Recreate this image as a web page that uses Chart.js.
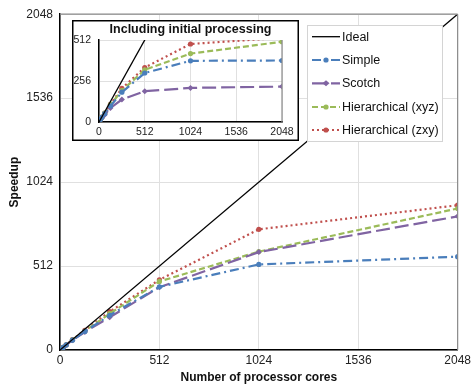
<!DOCTYPE html>
<html>
<head>
<meta charset="utf-8">
<script src="https://cdn.jsdelivr.net/npm/chart.js@4"></script>
<style>
  body { margin: 0; background: #fff; }
  #wrap { position: relative; width: 474px; height: 387px; }
  #main { position: absolute; left: 0; top: 0; }
  #inset { position: absolute; left: 72px; top: 20px; }
</style>
</head>
<body>
<div id="wrap">
  <canvas id="main" width="474" height="387"></canvas>
  <canvas id="inset" width="227" height="121"></canvas>
</div>
<script>
// processor cores (x) and speedups
const cores = [1, 16, 32, 64, 128, 256, 512, 1024, 2048];
const idealCores = [0, 2048];
const ideal = [0, 2048];

const simple = [1, 16, 31, 60, 113, 212, 385, 522, 569];
const scotch = [1, 16, 31, 59, 110, 200, 383, 597, 815];
const hierXyz = [1, 16, 32, 62, 116, 222, 418, 600, 863];
const hierZxy = [1, 16, 32, 63, 120, 234, 428, 736, 883];

// inset: including initial processing
const simpleInit = [1, 15, 29, 52, 100, 186, 306, 382, 384];
const scotchInit = [1, 14, 27, 46, 88, 140, 192, 213, 221];
const xyzInit = [1, 15, 30, 55, 108, 196, 326, 427, 501];
const zxyInit = [1, 16, 30, 55, 110, 210, 340, 487, 526];

const mainTicks = [0, 512, 1024, 1536, 2048];
const insetYTicks = [0, 256, 512];

const FONT = 'Liberation Sans, Arial, sans-serif';
const toXY = (xs, ys) => xs.map((x, i) => ({ x: x, y: ys[i] }));
const plain = (v) => String(v);

const styles = {
    ideal: { label: 'Ideal', borderColor: '#000000', borderWidth: 1.3, borderDash: [], pointRadius: 0, pointStyle: false },
    simple: { label: 'Simple', borderColor: '#4A7EBB', borderWidth: 2.2, borderDash: [9, 4, 2, 4], pointRadius: 2.6, pointStyle: 'circle' },
    scotch: { label: 'Scotch', borderColor: '#8064A2', borderWidth: 2.2, borderDash: [14, 5], pointRadius: 3, pointStyle: 'rectRot' },
    xyz: { label: 'Hierarchical (xyz)', borderColor: '#9BBB59', borderWidth: 2.2, borderDash: [6, 3], pointRadius: 2.6, pointStyle: 'circle' },
    zxy: { label: 'Hierarchical (zxy)', borderColor: '#C0504D', borderWidth: 2.2, borderDash: [2, 3], pointRadius: 2.6, pointStyle: 'circle' }
};

function makeDataset(key, xs, ys) {
    const s = styles[key];
    return {
        label: s.label,
        data: toXY(xs, ys),
        borderColor: s.borderColor,
        backgroundColor: s.borderColor,
        borderWidth: s.borderWidth,
        borderDash: s.borderDash,
        pointRadius: s.pointRadius,
        pointStyle: s.pointStyle,
        pointBorderWidth: 0,
        tension: 0,
        fill: false
    };
}

// grey frame on top/right of the plot area
function makeFrame(id, withTop) {
    return {
        id: id,
        afterDraw(chart) {
            const a = chart.chartArea;
            const c = chart.ctx;
            c.save();
            c.strokeStyle = '#8a8a8a';
            c.lineWidth = 1.2;
            c.beginPath();
            if (withTop) {
                c.moveTo(a.left, a.top);
                c.lineTo(a.right, a.top);
            }
            c.moveTo(a.right, a.top);
            c.lineTo(a.right, a.bottom);
            c.stroke();
            c.restore();
        }
    };
}

// legend box drawn like the original (line sample + marker)
const boxLegend = {
    id: 'boxLegend',
    afterDraw(chart) {
        const c = chart.ctx;
        const x0 = 307, y0 = 25, w = 135, h = 116;
        c.save();
        c.fillStyle = '#ffffff';
        c.fillRect(x0, y0, w, h);
        c.strokeStyle = '#d4d4d4';
        c.lineWidth = 1;
        c.strokeRect(x0 + 0.5, y0 + 0.5, w, h);
        const rows = [36.7, 60, 83.3, 107, 130];
        const keys = ['ideal', 'simple', 'scotch', 'xyz', 'zxy'];
        keys.forEach((k, i) => {
            const s = styles[k];
            const y = rows[i];
            c.strokeStyle = s.borderColor;
            c.lineWidth = s.borderWidth;
            c.setLineDash(s.borderDash);
            c.beginPath();
            c.moveTo(312, y);
            c.lineTo(340, y);
            c.stroke();
            c.setLineDash([]);
            if (s.pointStyle) {
                c.fillStyle = s.borderColor;
                c.beginPath();
                if (s.pointStyle === 'rectRot') {
                    c.moveTo(326, y - 3); c.lineTo(329.5, y); c.lineTo(326, y + 3); c.lineTo(322.5, y);
                } else {
                    c.arc(326, y, 2.6, 0, Math.PI * 2);
                }
                c.fill();
            }
            c.fillStyle = '#111';
            c.font = '12.5px ' + FONT;
            c.textBaseline = 'middle';
            c.textAlign = 'left';
            c.fillText(s.label, 342, y + 0.5);
        });
        c.restore();
    }
};

const gridStyle = {
    color: '#e0e0e0',
    lineWidth: 1,
    borderDash: [2, 2],
    drawTicks: false
};

new Chart(document.getElementById('main'), {
    type: 'line',
    data: {
        datasets: [
            makeDataset('ideal', idealCores, ideal),
            makeDataset('simple', cores, simple),
            makeDataset('scotch', cores, scotch),
            makeDataset('xyz', cores, hierXyz),
            makeDataset('zxy', cores, hierZxy)
        ]
    },
    options: {
        responsive: false,
        animation: false,
        layout: { padding: { top: 12, right: 13, left: 0, bottom: 0 } },
        plugins: { legend: { display: false }, tooltip: { enabled: false } },
        scales: {
            x: {
                type: 'linear',
                min: 0, max: 2048,
                afterBuildTicks: (s) => { s.ticks = mainTicks.map(v => ({ value: v })); },
                afterFit: (s) => { s.height = 37; },
                grid: gridStyle,
                border: { color: '#000', width: 1.5, dash: [] },
                ticks: { color: '#222', font: { family: FONT, size: 12 }, padding: 3, maxRotation: 0, callback: plain },
                title: { display: true, text: 'Number of processor cores', color: '#111', font: { family: FONT, size: 12, weight: 'bold' }, padding: { top: 0, bottom: 2 } }
            },
            y: {
                min: 0, max: 2048,
                afterBuildTicks: (s) => { s.ticks = mainTicks.map(v => ({ value: v })); },
                afterFit: (s) => { s.width = 60; },
                grid: gridStyle,
                border: { color: '#000', width: 1.5, dash: [] },
                ticks: { color: '#222', font: { family: FONT, size: 12 }, padding: 7, callback: plain },
                title: { display: true, text: 'Speedup', color: '#111', font: { family: FONT, size: 12, weight: 'bold' }, padding: { top: 7, bottom: 0 } }
            }
        }
    },
    plugins: [makeFrame('mainFrame', true), boxLegend]
});

const insetBg = {
    id: 'insetBg',
    beforeDraw(chart) {
        const c = chart.ctx;
        c.save();
        c.fillStyle = '#fff';
        c.fillRect(0, 0, chart.width, chart.height);
        c.restore();
    },
    afterDraw(chart) {
        const c = chart.ctx;
        c.save();
        c.strokeStyle = '#000';
        c.lineWidth = 1.5;
        c.strokeRect(0.75, 0.75, chart.width - 1.5, chart.height - 1.5);
        c.restore();
    }
};

new Chart(document.getElementById('inset'), {
    type: 'line',
    data: {
        datasets: [
            makeDataset('ideal', idealCores, ideal),
            makeDataset('simple', cores, simpleInit),
            makeDataset('scotch', cores, scotchInit),
            makeDataset('xyz', cores, xyzInit),
            makeDataset('zxy', cores, zxyInit)
        ]
    },
    options: {
        responsive: false,
        animation: false,
        layout: { padding: { top: 0, right: 17, left: 0, bottom: 0 } },
        plugins: {
            legend: { display: false },
            tooltip: { enabled: false },
            title: {
                display: true,
                fullSize: false,
                text: 'Including initial processing',
                color: '#111',
                font: { family: FONT, size: 12.5, weight: 'bold' },
                padding: { top: 2, bottom: 3 }
            }
        },
        scales: {
            x: {
                type: 'linear',
                min: 0, max: 2048,
                afterBuildTicks: (s) => { s.ticks = mainTicks.map(v => ({ value: v })); },
                afterFit: (s) => { s.height = 19; },
                grid: gridStyle,
                border: { color: '#000', width: 1.5, dash: [] },
                ticks: { color: '#222', font: { family: FONT, size: 10.5 }, padding: 4, maxRotation: 0, callback: plain }
            },
            y: {
                min: 0, max: 512,
                afterBuildTicks: (s) => { s.ticks = insetYTicks.map(v => ({ value: v })); },
                afterFit: (s) => { s.width = 27; },
                grid: gridStyle,
                border: { color: '#000', width: 1.5, dash: [] },
                ticks: { color: '#222', font: { family: FONT, size: 10.5 }, padding: 8, callback: plain }
            }
        }
    },
    plugins: [insetBg, makeFrame('insetFrame', false)]
});
</script>
</body>
</html>
